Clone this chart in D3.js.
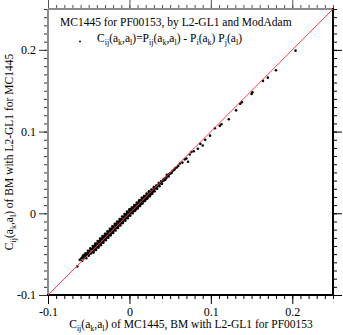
<!DOCTYPE html>
<html lang="en">
<head>
<meta charset="UTF-8">
<title>MC1445 for PF00153</title>
<script src="https://d3js.org/d3.v7.min.js"></script>
<style>
    body { margin: 0; background: #fff; }
    svg text { font-family: "Liberation Serif", "Times New Roman", serif; }
    .tick text { font-size: 12px; fill: #000; }
</style>
</head>
<body>
<div id="chart"></div>
<script>
    // axis ticks
    const majorTicks = [-0.1, 0, 0.1, 0.2];
    const tickLabels = ["-0.1", "0", "0.1", "0.2"];
    const minorTicks = d3.range(-10, 26).map(i => i / 100);

    // lower tail of the cloud
    const tailLow = [
        [-0.064,-0.065],[-0.058,-0.054],[-0.057,-0.052],[-0.056,-0.055],[-0.055,-0.051],
        [-0.054,-0.053],[-0.053,-0.050],[-0.052,-0.051],[-0.051,-0.048],[-0.050,-0.050],
        [-0.049,-0.046],[-0.048,-0.049],[-0.047,-0.044],[-0.046,-0.047],[-0.045,-0.043],
        [-0.045,-0.046]
    ];

    // dense band around zero
    const band = [
        [-0.044,-0.041],[-0.044,-0.046],[-0.043,-0.043],[-0.042,-0.039],[-0.042,-0.044],[-0.041,-0.041],
        [-0.040,-0.037],[-0.040,-0.042],[-0.039,-0.039],[-0.038,-0.035],[-0.038,-0.040],[-0.037,-0.036],
        [-0.036,-0.033],[-0.036,-0.038],[-0.035,-0.035],[-0.034,-0.031],[-0.034,-0.036],[-0.033,-0.032],
        [-0.032,-0.029],[-0.032,-0.034],[-0.031,-0.030],[-0.030,-0.027],[-0.030,-0.032],[-0.029,-0.029],
        [-0.028,-0.025],[-0.028,-0.030],[-0.027,-0.027],[-0.026,-0.023],[-0.026,-0.028],[-0.025,-0.025],
        [-0.024,-0.021],[-0.024,-0.026],[-0.023,-0.022],[-0.022,-0.019],[-0.022,-0.024],[-0.021,-0.021],
        [-0.020,-0.017],[-0.020,-0.022],[-0.019,-0.019],[-0.018,-0.015],[-0.018,-0.020],[-0.017,-0.017],
        [-0.016,-0.013],[-0.016,-0.018],[-0.015,-0.015],[-0.014,-0.011],[-0.014,-0.016],[-0.013,-0.013],
        [-0.012,-0.009],[-0.012,-0.014],[-0.011,-0.011],[-0.010,-0.007],[-0.010,-0.012],[-0.009,-0.009],
        [-0.008,-0.005],[-0.008,-0.010],[-0.007,-0.007],[-0.006,-0.003],[-0.006,-0.008],[-0.005,-0.005],
        [-0.004,-0.001],[-0.004,-0.006],[-0.003,-0.003],[-0.002,0.001],[-0.002,-0.004],[-0.001,-0.001],
        [0.000,0.003],[0.000,-0.002],[0.001,0.001],[0.002,0.005],[0.002,0.000],[0.003,0.003],
        [0.004,0.007],[0.004,0.002],[0.005,0.005],[0.006,0.008],[0.006,0.003],[0.007,0.007],
        [0.008,0.010],[0.008,0.005],[0.009,0.009],[0.010,0.012],[0.010,0.007],[0.011,0.011],
        [0.012,0.014],[0.012,0.009],[0.013,0.012],[0.014,0.016],[0.014,0.011],[0.015,0.014],
        [0.016,0.018],[0.016,0.013],[0.017,0.016],[0.018,0.020],[0.018,0.015],[0.019,0.018],
        [0.020,0.021],[0.020,0.017],[0.021,0.020],[0.022,0.023],[0.022,0.019],[0.023,0.022],
        [0.024,0.025],[0.024,0.021],[0.025,0.024],[0.026,0.026],[0.026,0.023],[0.027,0.026],
        [0.028,0.028],[0.028,0.025],[0.029,0.028],[0.030,0.030],[0.030,0.027],[0.031,0.030],
        [0.032,0.031],[0.033,0.031],[0.034,0.033],[0.035,0.034],[0.036,0.034],[0.037,0.036],
        [0.038,0.037],[0.039,0.037],[0.040,0.039],[0.041,0.040],[0.042,0.040],[0.043,0.042],
        [0.044,0.043],[0.045,0.043],[0.046,0.045],[0.047,0.046],[0.048,0.046],[0.049,0.048],
        [0.050,0.049],[0.051,0.049],[0.052,0.050],[0.053,0.052],[0.055,0.053],[0.056,0.055],
        [0.058,0.056],[0.060,0.058]
    ];

    // outer edge of the band (wider scatter)
    const bandOuter = [
        [-0.061,-0.057],[-0.059,-0.055],[-0.058,-0.058],[-0.056,-0.051],[-0.054,-0.049],[-0.053,-0.055],
        [-0.051,-0.046],[-0.050,-0.052],[-0.048,-0.043],[-0.047,-0.049],[-0.045,-0.040],[-0.044,-0.048],
        [-0.042,-0.037],[-0.041,-0.045],[-0.039,-0.034],[-0.038,-0.042],[-0.036,-0.031],[-0.035,-0.039],
        [-0.033,-0.028],[-0.032,-0.036],[-0.030,-0.025],[-0.029,-0.033],[-0.027,-0.022],[-0.026,-0.030],
        [-0.024,-0.019],[-0.023,-0.027],[-0.021,-0.016],[-0.020,-0.024],[-0.018,-0.013],[-0.017,-0.021],
        [-0.015,-0.010],[-0.014,-0.018],[-0.012,-0.007],[-0.011,-0.015],[-0.009,-0.004],[-0.008,-0.012],
        [-0.006,-0.001],[-0.005,-0.009],[-0.003,0.002],[-0.002,-0.006],[0.000,0.005],[0.001,-0.003],
        [0.003,0.007],[0.004,0.000],[0.006,0.010],[0.007,0.003],[0.009,0.013],[0.010,0.006],
        [0.012,0.016],[0.013,0.009],[0.015,0.019],[0.016,0.012],[0.018,0.021],[0.019,0.015],
        [0.021,0.024],[0.022,0.018],[0.024,0.027],[0.025,0.021],[0.027,0.029],[0.028,0.024],
        [0.030,0.032],[0.031,0.027],[0.033,0.034],[0.034,0.030],[0.036,0.037],[0.037,0.033],
        [0.039,0.039],[0.040,0.036],[0.042,0.042],[0.044,0.041],[0.046,0.047],[0.048,0.045]
    ];

    // sparse upper tail
    const tailHigh = [
        [0.062,0.061],[0.065,0.062],[0.068,0.066],[0.070,0.067],[0.072,0.063],[0.074,0.072],
        [0.076,0.075],[0.079,0.076],[0.084,0.079],[0.087,0.085],[0.090,0.083],[0.093,0.090],
        [0.099,0.095],[0.105,0.104],[0.111,0.107],[0.113,0.109],[0.122,0.115],[0.131,0.126],
        [0.136,0.134],[0.138,0.136],[0.150,0.146],[0.151,0.148],[0.164,0.162],[0.170,0.166],
        [0.180,0.175],[0.204,0.199]
    ];

    const points = tailLow.concat(band, bandOuter, tailHigh);

    const W = 343, H = 335;
    const pLeft = 48, pRight = 333, pTop = 9, pBottom = 295;

    const svg = d3.select("#chart").append("svg")
        .attr("width", W).attr("height", H);

    const x = d3.scaleLinear().domain([-0.1, 0.25]).range([pLeft, pRight]);
    const y = d3.scaleLinear().domain([-0.1, 0.25]).range([pBottom, pTop]);

    const fmt = d => tickLabels[majorTicks.indexOf(d)] ?? "";

    function axisGroup(axis, tx, ty, tickColor) {
        const g = svg.append("g")
            .attr("transform", `translate(${tx},${ty})`)
            .call(axis)
            .attr("font-family", null)
            .attr("font-size", null);
        g.select(".domain").remove();
        g.selectAll(".tick line").attr("stroke", tickColor).attr("stroke-width", 1);
        return g;
    }

    // minor ticks
    axisGroup(d3.axisBottom(x).tickValues(minorTicks).tickSize(4).tickFormat(""), 0, pBottom, "#000");
    axisGroup(d3.axisTop(x).tickValues(minorTicks).tickSize(4).tickFormat(""), 0, pTop, "#555");
    axisGroup(d3.axisLeft(y).tickValues(minorTicks).tickSize(4).tickFormat(""), pLeft, 0, "#333");
    axisGroup(d3.axisRight(y).tickValues(minorTicks).tickSize(4).tickFormat(""), pRight, 0, "#000");

    // major ticks
    axisGroup(d3.axisBottom(x).tickValues(majorTicks).tickSize(9).tickPadding(3).tickFormat(fmt), 0, pBottom, "#000");
    axisGroup(d3.axisTop(x).tickValues(majorTicks).tickSize(9).tickFormat(""), 0, pTop, "#555");
    axisGroup(d3.axisLeft(y).tickValues(majorTicks).tickSize(9).tickPadding(3).tickFormat(fmt), pLeft, 0, "#333");
    axisGroup(d3.axisRight(y).tickValues(majorTicks).tickSize(9).tickFormat(""), pRight, 0, "#000");

    // frame
    svg.append("line").attr("x1", pLeft).attr("x2", pRight).attr("y1", pTop).attr("y2", pTop)
        .attr("stroke", "#8c8c8c").attr("stroke-width", 2);
    svg.append("line").attr("x1", pLeft).attr("x2", pLeft).attr("y1", pTop).attr("y2", pBottom)
        .attr("stroke", "#8c8c8c").attr("stroke-width", 2);
    svg.append("line").attr("x1", pLeft - 1).attr("x2", pRight + 1).attr("y1", pBottom).attr("y2", pBottom)
        .attr("stroke", "#000").attr("stroke-width", 2);
    svg.append("line").attr("x1", pRight).attr("x2", pRight).attr("y1", pTop - 1).attr("y2", pBottom)
        .attr("stroke", "#000").attr("stroke-width", 2);

    // points
    svg.append("g").selectAll("circle")
        .data(points)
        .enter().append("circle")
        .attr("cx", d => x(d[0]))
        .attr("cy", d => y(d[1]))
        .attr("r", 1.3)
        .attr("fill", "#000");

    // diagonal y = x
    svg.append("line")
        .attr("x1", x(-0.1)).attr("y1", y(-0.1))
        .attr("x2", x(0.25)).attr("y2", y(0.25))
        .attr("stroke", "#ff4040").attr("stroke-width", 1);

    // text with sub-scripts
    function cij(sel) {
        sel.append("tspan").text("C");
        sel.append("tspan").attr("dy", 3).attr("font-size", 8).text("ij");
        sel.append("tspan").attr("dy", -3).text("(a");
        sel.append("tspan").attr("dy", 3).attr("font-size", 8).text("k");
        sel.append("tspan").attr("dy", -3).text(",a");
        sel.append("tspan").attr("dy", 3).attr("font-size", 8).text("l");
        sel.append("tspan").attr("dy", -3).text(")");
    }

    svg.append("text")
        .attr("x", 60).attr("y", 26)
        .attr("font-size", 11.5)
        .text("MC1445 for PF00153, by L2-GL1 and ModAdam");

    // legend
    svg.append("circle").attr("cx", 80).attr("cy", 41.5).attr("r", 0.9).attr("fill", "#000");
    const leg = svg.append("text").attr("x", 97).attr("y", 42).attr("font-size", 11.5);
    cij(leg);
    leg.append("tspan").text("=P");
    leg.append("tspan").attr("dy", 3).attr("font-size", 8).text("ij");
    leg.append("tspan").attr("dy", -3).text("(a");
    leg.append("tspan").attr("dy", 3).attr("font-size", 8).text("k");
    leg.append("tspan").attr("dy", -3).text(",a");
    leg.append("tspan").attr("dy", 3).attr("font-size", 8).text("l");
    leg.append("tspan").attr("dy", -3).text(") - P");
    leg.append("tspan").attr("dy", 3).attr("font-size", 8).text("i");
    leg.append("tspan").attr("dy", -3).text("(a");
    leg.append("tspan").attr("dy", 3).attr("font-size", 8).text("k");
    leg.append("tspan").attr("dy", -3).text(") P");
    leg.append("tspan").attr("dy", 3).attr("font-size", 8).text("j");
    leg.append("tspan").attr("dy", -3).text("(a");
    leg.append("tspan").attr("dy", 3).attr("font-size", 8).text("l");
    leg.append("tspan").attr("dy", -3).text(")");

    // x axis title
    const xt = svg.append("text")
        .attr("x", 191).attr("y", 328)
        .attr("text-anchor", "middle")
        .attr("font-size", 11.5);
    cij(xt);
    xt.append("tspan").text(" of MC1445, BM with L2-GL1 for PF00153");

    // y axis title
    const yt = svg.append("text")
        .attr("transform", "translate(13,152) rotate(-90)")
        .attr("text-anchor", "middle")
        .attr("font-size", 11.5);
    cij(yt);
    yt.append("tspan").text(" of BM with L2-GL1 for MC1445");
</script>
</body>
</html>
